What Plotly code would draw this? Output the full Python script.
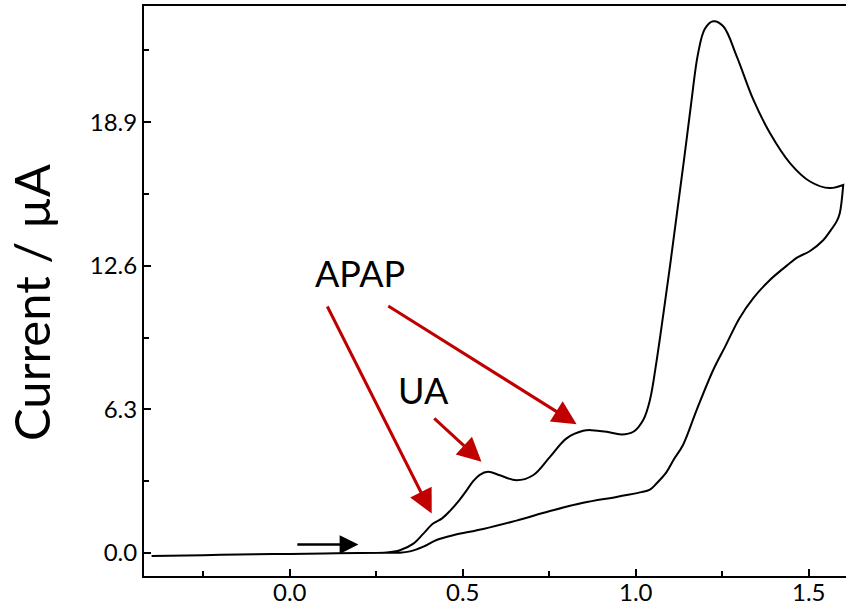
import plotly.graph_objects as go

# Forward (upper) scan: potential (V) and current (µA)
fwd_x = [-0.40, -0.30, -0.20, -0.10, 0.00, 0.10, 0.20, 0.28, 0.318, 0.357, 0.386, 0.414, 0.440,
         0.463, 0.490, 0.511, 0.530, 0.549, 0.573, 0.607, 0.655, 0.703, 0.752, 0.800, 0.848,
         0.872, 0.916, 0.959, 0.993, 1.022, 1.041, 1.060, 1.080, 1.100, 1.120, 1.140, 1.160,
         1.180, 1.200, 1.224, 1.253, 1.292, 1.340, 1.388, 1.446, 1.504, 1.561, 1.600]
fwd_y = [-0.13, -0.11, -0.08, -0.06, -0.04, -0.02, 0.00, 0.02, 0.12, 0.41, 0.85, 1.29, 1.52,
         1.85, 2.32, 2.75, 3.15, 3.43, 3.56, 3.41, 3.19, 3.41, 4.22, 5.03, 5.36,
         5.39, 5.32, 5.20, 5.32, 5.85, 6.71, 8.40, 10.50, 12.70, 15.00, 17.30, 19.70,
         21.90, 23.00, 23.33, 23.11, 21.79, 19.89, 18.43, 17.11, 16.30, 16.01, 16.15]

# Reverse (lower) scan
rev_x = [1.600, 1.590, 1.581, 1.561, 1.542, 1.504, 1.465, 1.446, 1.388, 1.340, 1.300, 1.260,
         1.224, 1.176, 1.137, 1.110, 1.089, 1.060, 1.041, 1.012, 0.944, 0.848, 0.752, 0.655,
         0.559, 0.472, 0.424, 0.386, 0.347, 0.318, 0.28, 0.20]
rev_y = [16.15, 14.91, 14.55, 14.10, 13.72, 13.25, 12.95, 12.72, 11.98, 11.18, 10.30, 9.10,
         8.03, 6.27, 4.75, 4.10, 3.55, 3.05, 2.78, 2.66, 2.46, 2.20, 1.84, 1.42,
         1.05, 0.78, 0.57, 0.28, 0.07, 0.01, 0.01, 0.00]

x_ticks = [0.0, 0.5, 1.0, 1.5]
y_ticks = [0.0, 6.3, 12.6, 18.9]

labels = [
    dict(text="APAP", x=0.202, y=12.30),
    dict(text="UA", x=0.387, y=7.15),
]
red_arrows = [  # (tail_x, tail_y, head_x, head_y)
    (0.106, 10.88, 0.410, 1.73),
    (0.280, 10.88, 0.829, 5.65),
    (0.413, 5.97, 0.554, 4.00),
]
black_arrow = (0.017, 0.37, 0.198, 0.37)

FONT = "Lato"

fig = go.Figure()
fig.add_trace(go.Scatter(
    x=fwd_x + rev_x, y=fwd_y + rev_y, mode="lines",
    line=dict(color="black", width=2, shape="spline", smoothing=1.0),
    showlegend=False, hoverinfo="skip"))

annotations = []
for lb in labels:
    annotations.append(dict(text=lb["text"], x=lb["x"], y=lb["y"], xref="x", yref="y",
                            showarrow=False, font=dict(family=FONT, size=36, color="black")))
for (tx, ty, hx, hy) in red_arrows:
    annotations.append(dict(text="", x=hx, y=hy, ax=tx, ay=ty, xref="x", yref="y",
                            axref="x", ayref="y", showarrow=True, arrowhead=2,
                            arrowsize=1.6, arrowwidth=3, arrowcolor="#C00000", standoff=0))
tx, ty, hx, hy = black_arrow
annotations.append(dict(text="", x=hx, y=hy, ax=tx, ay=ty, xref="x", yref="y",
                        axref="x", ayref="y", showarrow=True, arrowhead=2,
                        arrowsize=1.5, arrowwidth=2.5, arrowcolor="black", standoff=0))
# x tick labels placed as annotations just under the axis (positions from the axis values)
for v in x_ticks:
    annotations.append(dict(text=f"{v:.1f}", x=v, y=0, xref="x", yref="paper",
                            xanchor="center", yanchor="top", yshift=0, borderpad=0,
                            showarrow=False,
                            font=dict(family=FONT, size=24, color="black")))
# y-axis title, centred at about (31 px, 302 px)
annotations.append(dict(text="Current / µA", xref="paper", yref="paper",
                        x=(31 - 144) / 702, y=(576 - 302) / 570, xanchor="center", yanchor="middle",
                        textangle=-90, showarrow=False,
                        font=dict(family=FONT, size=49, color="black")))

fig.update_layout(
    width=846, height=609,
    margin=dict(l=144, r=0, t=6, b=33, autoexpand=False),
    paper_bgcolor="white", plot_bgcolor="white",
    font=dict(family=FONT, color="black"),
    annotations=annotations,
    xaxis=dict(range=[-0.422, 1.608], tickvals=x_ticks, showticklabels=False,
               ticks="inside", ticklen=7, tickwidth=2, tickcolor="black", automargin=False,
               showline=True, linewidth=2, linecolor="black", mirror=True,
               showgrid=False, zeroline=False,
               minor=dict(tick0=0.25, dtick=0.5, ticks="inside", ticklen=5, tickwidth=2,
                          tickcolor="black", showgrid=False)),
    yaxis=dict(range=[-1.01, 24.0], tickvals=y_ticks, ticktext=[f"{v:.1f}" for v in y_ticks],
               ticks="inside", ticklen=7, tickwidth=2, tickcolor="black", automargin=False,
               showline=True, linewidth=2, linecolor="black", mirror=False,
               showgrid=False, zeroline=False,
               tickfont=dict(family=FONT, size=24, color="black"),
               minor=dict(tick0=3.15, dtick=6.3, ticks="inside", ticklen=5, tickwidth=2,
                          tickcolor="black", showgrid=False)),
)

fig.write_html("out.html")
